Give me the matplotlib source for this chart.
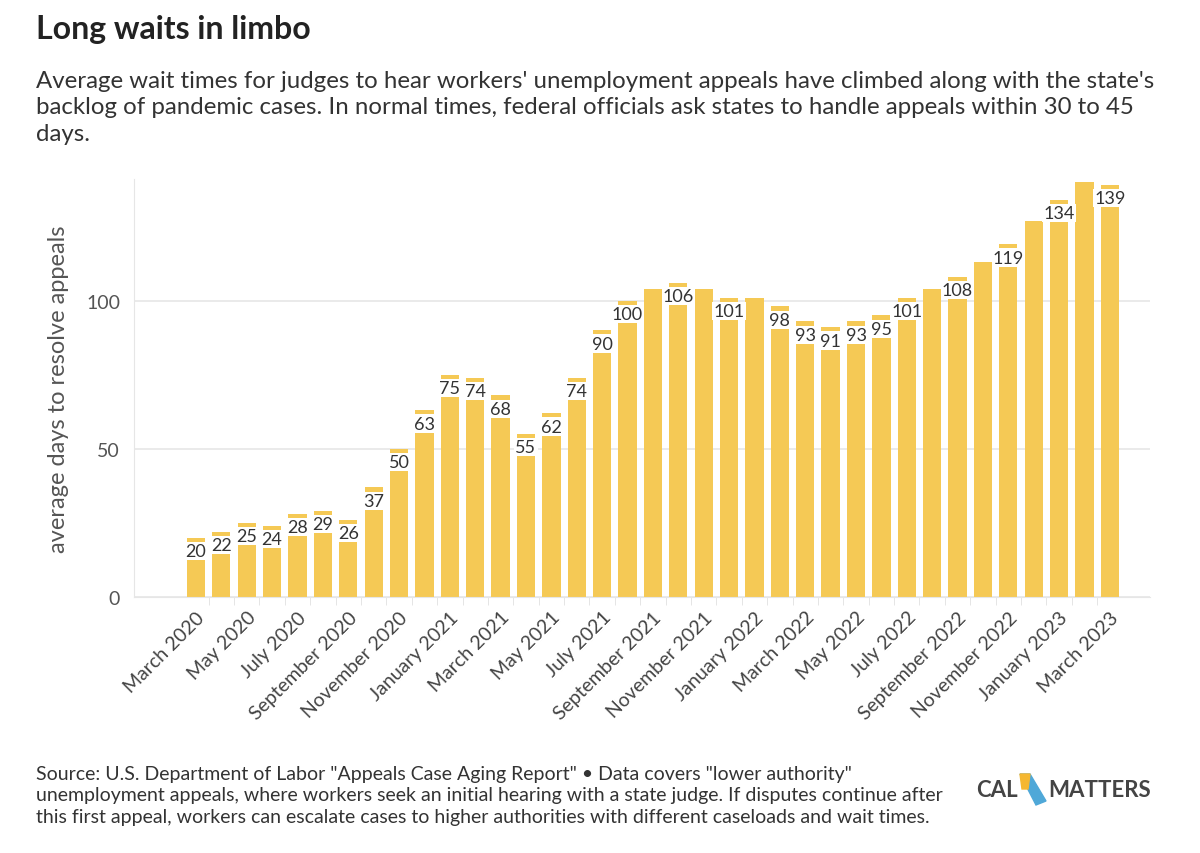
import matplotlib.pyplot as plt
import numpy as np

months = ["January", "February", "March", "April", "May", "June", "July",
          "August", "September", "October", "November", "December"]
labels = []
for i in range(37):
    m = (2 + i) % 12
    y = 2020 + (2 + i) // 12
    labels.append(f"{months[m]} {y}")

values = [20, 22, 25, 24, 28, 29, 26, 37, 50, 63, 75, 74, 68, 55, 62, 74, 90, 100,
          104, 106, 104, 101, 101, 98, 93, 91, 93, 95, 101, 104, 108, 113, 119, 127,
          134, 140, 139]
show_label = [True] * 37
for i in [18, 20, 22, 29, 31, 33, 35]:
    show_label[i] = False

plt.rcParams['font.family'] = ['Lato', 'DejaVu Sans']
fig = plt.figure(figsize=(12, 8.54), dpi=100)
ax = fig.add_axes([134 / 1200, 1 - 598 / 854, (1150 - 134) / 1200, (598 - 180) / 854])

x = np.arange(len(values))
ax.bar(x, values, width=0.72, color="#f5c955", zorder=2)
for xi, v, s in zip(x, values, show_label):
    if s:
        ax.text(xi, v - 1.8, str(v), ha="center", va="top", fontsize=13, color="#333333",
                zorder=3, bbox=dict(boxstyle="square,pad=0.06", fc="white", ec="none"))

ax.set_xlim(-2.44, 37.58)
ax.set_ylim(0, 141)
ax.set_yticks([0, 50, 100])
ax.yaxis.grid(True, color="#e6e6e6", linewidth=1.2, zorder=0)
ax.tick_params(axis="y", length=0, labelsize=14, labelcolor="#555555", pad=10)
ax.set_xticks(x[::2])
ax.set_xticklabels(labels[::2], rotation=45, ha="right", rotation_mode="anchor",
                   fontsize=14, color="#444444")
ax.set_xticks(x[:-1] + 0.5, minor=True)
ax.tick_params(axis="x", which="major", length=0, pad=8)
ax.tick_params(axis="x", which="minor", length=6, color="#e0e0e0")
for sp in ["top", "right"]:
    ax.spines[sp].set_visible(False)
ax.spines["left"].set_color("#e6e6e6")
ax.spines["bottom"].set_color("#e6e6e6")
ax.set_ylabel("average days to resolve appeals", fontsize=17, color="#555555", labelpad=12)

fig.text(36 / 1200, 1 - 30 / 854, "Long waits in limbo", fontsize=23, fontweight="bold",
         color="#222222", va="center")
fig.text(36 / 1200, 1 - 108 / 854,
         "Average wait times for judges to hear workers' unemployment appeals have climbed along with the state's\n"
         "backlog of pandemic cases. In normal times, federal officials ask states to handle appeals within 30 to 45\n"
         "days.", fontsize=17.3, color="#333333", va="center", linespacing=1.3)
fig.text(36 / 1200, 1 - 796 / 854,
         "Source: U.S. Department of Labor \"Appeals Case Aging Report\" \u2022 Data covers \"lower authority\"\n"
         "unemployment appeals, where workers seek an initial hearing with a state judge. If disputes continue after\n"
         "this first appeal, workers can escalate cases to higher authorities with different caseloads and wait times.",
         fontsize=14, color="#333333", va="center", linespacing=1.35)
fig.text(976 / 1200, 1 - 791 / 854, "CAL", fontsize=16, fontweight="bold", color="#444444", va="center")
fig.text(1048 / 1200, 1 - 791 / 854, "MATTERS", fontsize=16, fontweight="bold", color="#444444", va="center")
fig.patches.append(plt.Polygon([[1020 / 1200, 1 - 775 / 854], [1030 / 1200, 1 - 775 / 854],
                                [1046 / 1200, 1 - 802 / 854], [1036 / 1200, 1 - 806 / 854]],
                               transform=fig.transFigure, color="#4fa8d8"))
fig.patches.append(plt.Polygon([[1020 / 1200, 1 - 775 / 854], [1030 / 1200, 1 - 775 / 854],
                                [1028 / 1200, 1 - 790 / 854], [1022 / 1200, 1 - 790 / 854]],
                               transform=fig.transFigure, color="#f5b731"))
fig.savefig("out.png", dpi=100)
